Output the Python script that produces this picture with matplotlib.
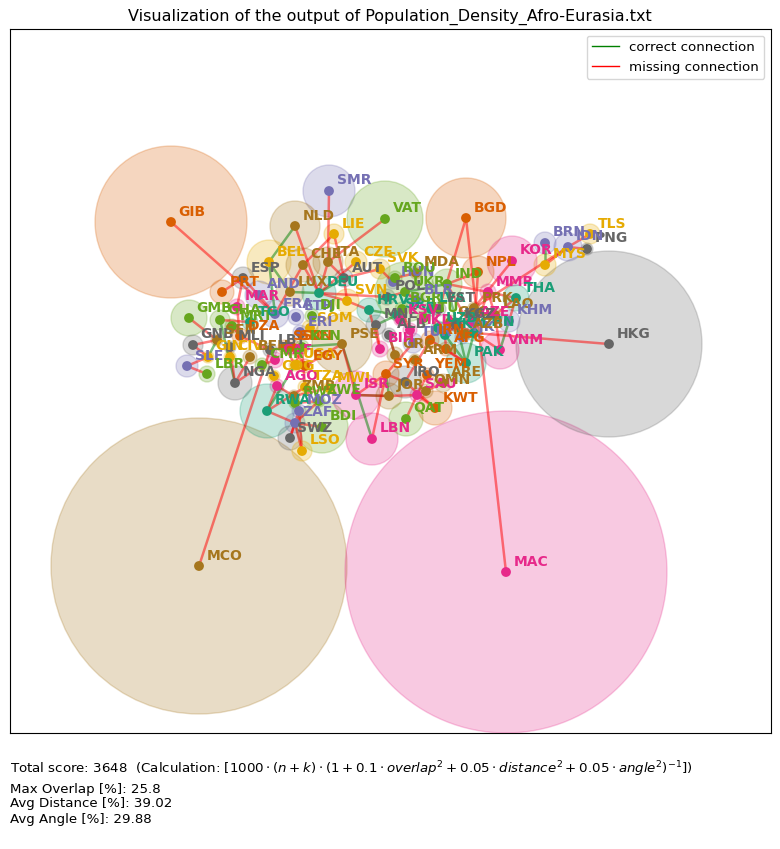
import matplotlib
matplotlib.use("Agg")
import matplotlib.pyplot as plt
from matplotlib.patches import Circle
from matplotlib.lines import Line2D

# values: position, radius and colour group of each country
codes = ["GIB","MCO","MAC","HKG","SMR","VAT","NLD","BGD","LIE","TLS","PNG","IDN","BRN","MYS","KOR","NPL","MMR","THA","PRK","LAO",
         "KHM","CHN","VNM","PAK","BEL","ESP","PRT","MAR","AND","LUX","CHE","ITA","CZE","SVK","AUT","DEU","SVN","FRA","ETH","DJI",
         "SOM","GMB","GHA","MRT","TGO","ERI","GNB","SEN","DZA","MLI","GIN","CIV","BEN","LBY","SLE","LBR","NGA","CAF","CMR","UGA",
         "EGY","SDN","SSD","KEN","COG","AGO","TZA","MWI","ZMB","ZWE","BWA","RWA","MOZ","ZAF","BDI","SWZ","LSO","ISR","LBN","QAT",
         "KWT","SAU","JOR","SYR","IRQ","OMN","ARE","YEM","ARM","GRC","BIH","PSE","AFG","TUR","TKM","TJK","KAZ","ALB","MNE","SRB",
         "HRV","BGR","POL","HUN","ROU","MDA","UKR","BLR","LVA","EST","IND","GEO","AZE","LTU","MKD","UZB","KGZ","IRN","AZB","KSV"]
xs = [171,199,506,609,329,385,295,466,334,590,587,568,545,545,512,478,488,516,474,495,
      509,474,500,466,269,243,222,237,259,290,303,328,356,380,344,319,347,275,296,312,
      310,189,220,232,250,300,193,217,240,230,208,230,250,270,187,207,235,275,262,295,
      305,292,285,302,274,277,305,329,294,319,295,267,299,295,322,290,302,356,372,406,
      435,417,389,386,405,426,443,427,415,395,380,342,446,413,445,462,457,389,376,397,
      369,402,387,393,395,416,405,416,431,439,447,450,472,424,410,438,456,430,465,400]
ys = [222,566,572,344,191,219,226,218,234,234,249,247,243,265,261,272,292,298,308,315,
      321,333,350,363,262,278,292,307,295,292,265,262,262,269,278,293,301,314,317,316,
      328,318,320,326,322,332,345,340,336,347,357,357,357,350,366,374,383,360,365,365,
      366,347,347,347,376,386,387,388,396,401,403,411,411,423,427,438,451,395,439,419,
      408,395,396,374,382,391,383,375,360,355,349,344,349,343,335,337,325,335,325,315,
      310,309,297,282,278,273,292,300,309,309,284,322,322,318,330,328,325,340,334,320]
radii = [76,148,161,93,26,38,25,40,10,10,6,14,11,11,25,16,8,13,6,8,
         11,8,19,20,22,11,12,8,14,14,17,15,11,10,9,17,12,14,8,7,
         8,18,10,7,8,7,10,6,8,6,6,6,7,7,11,8,17,8,7,6,
         7,8,7,7,6,7,7,6,6,6,6,27,7,10,26,12,10,24,26,17,
         17,7,13,13,16,7,9,7,6,8,8,30,7,10,13,7,7,7,10,6,
         12,7,8,7,7,6,30,8,7,7,15,7,6,7,7,7,6,9,6,6]
groups = [1,6,3,7,2,4,6,1,5,5,7,2,2,5,3,1,3,0,6,6,
          2,0,3,0,5,7,1,3,2,6,6,6,5,5,7,0,5,2,2,4,
          5,4,4,4,0,2,7,6,1,7,5,5,6,7,2,4,7,3,4,5,
          1,1,1,4,5,3,5,5,6,4,4,0,2,2,4,7,5,3,3,4,
          1,3,6,1,7,6,6,1,6,6,3,6,1,2,0,2,7,7,7,0,
          0,4,7,2,4,6,4,2,0,7,4,6,3,4,3,0,7,1,6,3]

missing_edges = [("GIB","FRA"),("MCO","LBY"),("MAC","BGD"),("BGD","IRN"),("HKG","CHN"),("SMR","ITA"),("NLD","DEU"),("VAT","ITA"),
                 ("LIE","CHE"),("LIE","AUT"),("ESP","PRT"),("ESP","FRA"),("ESP","MAR"),("CHE","DEU"),("CHE","FRA"),("ITA","DEU"),
                 ("ITA","AUT"),("CZE","DEU"),("SVK","AUT"),("SVK","HUN"),("DEU","SVN"),("DEU","POL"),("SVN","AUT"),("SVN","HRV"),
                 ("HUN","ROU"),("UKR","POL"),("UKR","BLR"),("MDA","ROU"),("IND","CHN"),("IND","MMR"),("NPL","CHN"),("NPL","IND"),
                 ("KOR","PRK"),("MMR","CHN"),("MMR","THA"),("LAO","THA"),("LAO","VNM"),("LAO","MMR"),("KHM","THA"),("MYS","IDN"),
                 ("IDN","PNG"),("IDN","TLS"),("IDN","PRK"),("VNM","CHN"),("PAK","IRN"),("PAK","AFG"),("GMB","SEN"),("GNB","SEN"),
                 ("GNB","GIN"),("SLE","LBR"),("SLE","GIN"),("GHA","TGO"),("NGA","BEN"),("NGA","CMR"),("MAR","DZA"),("MRT","DZA"),
                 ("DZA","LBY"),("MLI","NGA"),("EGY","SDN"),("LBY","SDN"),("CAF","CMR"),("UGA","KEN"),("UGA","SSD"),("TZA","KEN"),
                 ("RWA","TZA"),("RWA","ZAF"),("BDI","ZAF"),("SWZ","ZAF"),("SWZ","MOZ"),("LSO","ZAF"),("LSO","MOZ"),("ZMB","AGO"),
                 ("ZWE","ZAF"),("MWI","ZMB"),("BWA","ZWE"),("PSE","ISR"),("PSE","EGY"),("ISR","JOR"),("ISR","SYR"),("LBN","SYR"),
                 ("QAT","SAU"),("KWT","SAU"),("KWT","IRQ"),("JOR","SAU"),("SYR","IRQ"),("SAU","YEM"),("SAU","OMN"),("BIH","HRV"),
                 ("SYR","TUR"),("IRQ","IRN"),("ARE","OMN"),("GRC","ALB"),("TUR","BGR"),("AFG","TKM"),("TKM","KAZ"),("CHN","KAZ"),
                 ("RWA","AGO"),("BIH","MNE"),("GEO","AZE"),("EST","LVA")]
correct_edges = [("NLD","BEL"),("BEL","LUX"),("LUX","DEU"),("BRN","MYS"),("PAK","CHN"),("PAK","IND"),("KHM","VNM"),("PSE","LBN"),
                 ("ISR","JOR"),("PSE","SDN"),("SYR","JOR"),("DEU","AUT"),("BEL","FRA"),("UKR","IND"),("MNE","SRB"),("HRV","SRB"),
                 ("NGA","GHA"),("GIN","SEN"),("RWA","UGA"),("TKM","PAK"),("ALB","GRC"),("TJK","CHN")]

score_text = r"Total score: 3648  (Calculation: $[1000 \cdot (n + k) \cdot (1 + 0.1 \cdot overlap^2 + 0.05 \cdot distance^2 + 0.05 \cdot angle^2)^{-1}]$)"
stat_lines = ["Max Overlap [%]: 25.8", "Avg Distance [%]: 39.02", "Avg Angle [%]: 29.88"]

palette = plt.get_cmap("Dark2").colors
pos = {c: (x, y) for c, x, y in zip(codes, xs, ys)}

fig = plt.figure(figsize=(7.8, 8.49), dpi=100)
ax = fig.add_axes([10 / 780, 1 - 733 / 849, 761 / 780, 704 / 849])
ax.set_xlim(10, 771)
ax.set_ylim(733, 29)
ax.set_xticks([])
ax.set_yticks([])
ax.set_title("Visualization of the output of Population_Density_Afro-Eurasia.txt", fontsize=11.5, pad=6, x=0.4987)

for x, y, r, g in zip(xs, ys, radii, groups):
    ax.add_patch(Circle((x, y), r, facecolor=palette[g], edgecolor=palette[g], alpha=0.25, lw=1, zorder=1))

for a, b in correct_edges:
    ax.plot([pos[a][0], pos[b][0]], [pos[a][1], pos[b][1]], color="green", alpha=0.5, lw=1.8, zorder=2)
for a, b in missing_edges:
    ax.plot([pos[a][0], pos[b][0]], [pos[a][1], pos[b][1]], color="red", alpha=0.5, lw=1.8, zorder=2)

ax.scatter(xs, ys, s=50, c=[palette[g] for g in groups], zorder=3, linewidths=0)

for c, x, y, g in zip(codes, xs, ys, groups):
    ax.text(x + 7.5, y - 10.5, c, color=palette[g], fontsize=10, fontweight="bold", ha="left", va="center", zorder=4, clip_on=True)

handles = [Line2D([], [], color="green", lw=1), Line2D([], [], color="red", lw=1)]
ax.legend(handles, ["correct connection", "missing connection"], loc="upper right", fontsize=9.6)

fig.text(10 / 780, 1 - 769 / 849, score_text, fontsize=9.6, ha="left", va="center")
for line, py in zip(stat_lines, [789, 804, 819]):
    fig.text(10 / 780, 1 - py / 849, line, fontsize=9.6, ha="left", va="center")

fig.savefig("out.png", dpi=100)
